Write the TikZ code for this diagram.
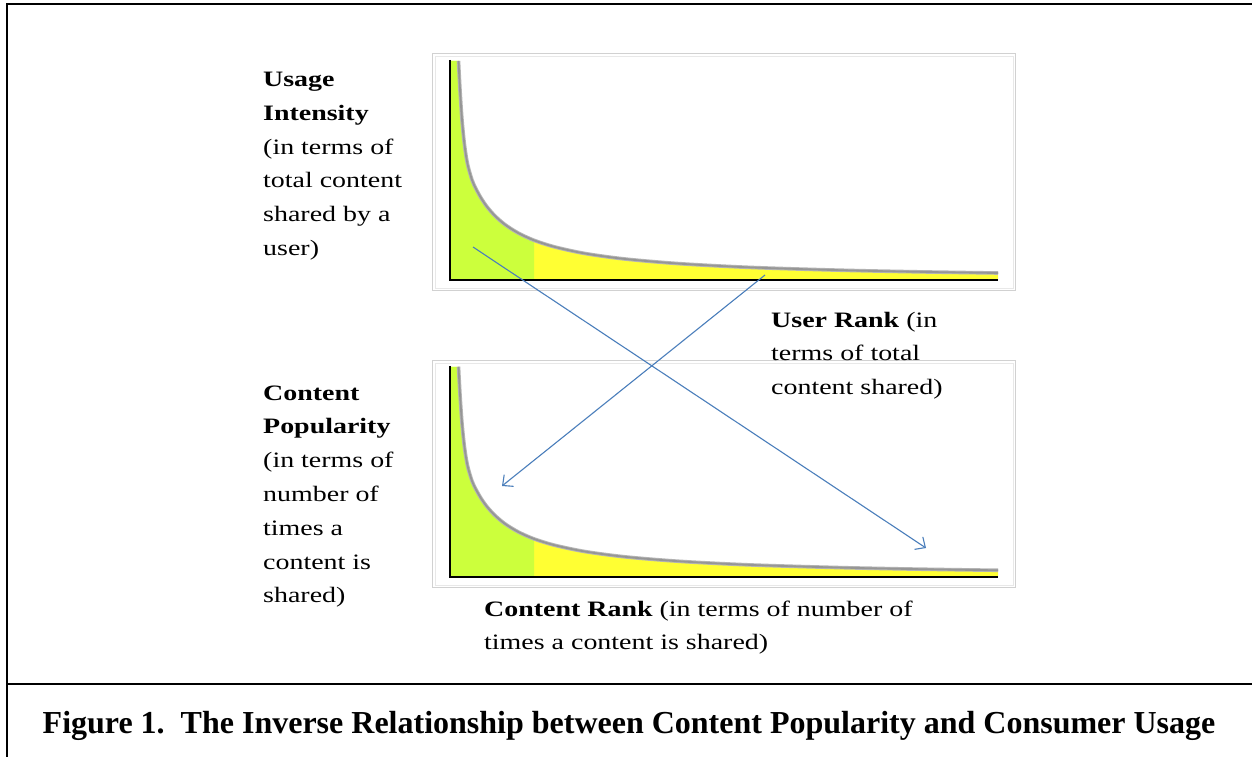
\documentclass[tikz,border=0pt]{standalone}
\usepackage{fontspec}
\setmainfont{Liberation Serif}
\newfontfamily\labfont[FakeStretch=1.27]{Liberation Serif}
\usetikzlibrary{arrows.meta}
\definecolor{arrowblue}{RGB}{74,126,187}
\definecolor{limefill}{RGB}{204,255,60}
\definecolor{yelfill}{RGB}{255,255,51}
\definecolor{curvegrey}{RGB}{150,150,150}
\newcommand\linesbox[1]{\vtop{\baselineskip=33.8pt\lineskiplimit=-50pt\lineskip=0pt #1}}
\newcommand\tailfill[1]{\fill[#1] (0,0) -- (0,-219) -- plot[smooth,tension=0.5] coordinates {(8.5,-219) (10,-190) (12,-160) (14.5,-135) (17.5,-116) (22,-100) (26,-91.1) (31,-82) (37,-73.2) (45,-64.1) (55,-55.4) (68,-47.1) (84,-39.7) (105,-33) (135,-26.5) (175,-21) (230,-16.3) (300,-12.6) (390,-9.8) (470,-8.15) (548,-7)} -- (548,0) -- cycle;}
\newcommand\tailline[1]{\draw[#1] plot[smooth,tension=0.5] coordinates {(8.5,-219) (10,-190) (12,-160) (14.5,-135) (17.5,-116) (22,-100) (26,-91.1) (31,-82) (37,-73.2) (45,-64.1) (55,-55.4) (68,-47.1) (84,-39.7) (105,-33) (135,-26.5) (175,-21) (230,-16.3) (300,-12.6) (390,-9.8) (470,-8.15) (548,-7)};}
\tikzset{
  frameline/.style={line width=2pt, draw=black},
  chartframe/.style={draw=black!18, line width=1.2pt},
  chartframein/.style={draw=black!9, line width=0.8pt},
  axisline/.style={draw=black, line width=2.6pt},
  curveouter/.style={draw=curvegrey!70, line width=3.6pt},
  curveinner/.style={draw=curvegrey, line width=1.8pt},
  lbltext/.style={anchor=base west, inner sep=0pt, font=\labfont\fontsize{22}{34}\selectfont},
  captext/.style={anchor=base west, inner sep=0pt, font=\fontsize{32}{38}\selectfont\bfseries},
  arrowline/.style={draw=arrowblue, line width=1.1pt, -{Straight Barb[length=8pt,width=15pt,line width=1.1pt]}},
  tailchart/.pic={
    \tailfill{yelfill}
    \begin{scope}
      \clip (-2,2) rectangle (84,-230);
      \tailfill{limefill}
    \end{scope}
    \tailline{curveouter}
    \tailline{curveinner}
    \draw[axisline] (0,-220) -- (0,0) -- (548,0);
  }
}
\begin{document}
\begin{tikzpicture}[x=1pt,y=-1pt]
\useasboundingbox (0,0) rectangle (1252,757);
\fill[white] (0,0) rectangle (1252,757);
% outer frame
\draw[frameline] (7,760) -- (7,4) -- (1255,4);
\draw[frameline] (7,684) -- (1255,684);
% chart frames
\draw[chartframe] (432.5,53.5) rectangle (1015.5,290.5);
\draw[chartframein] (435,56) rectangle (1013,288);
\draw[chartframe] (432.5,360.5) rectangle (1015.5,587.5);
\draw[chartframein] (435,363) rectangle (1013,585);
% charts
\pic (topchart) at (450,280) {tailchart};
\pic[yscale=0.96] (botchart) at (450,577) {tailchart};
% labels
\node[lbltext] (usage) at (263,86.5) {\linesbox{\hbox{\bfseries Usage}\hbox{\bfseries Intensity}\hbox{(in terms of}\hbox{total content}\hbox{shared by a}\hbox{user)}}};
\node[lbltext] (popularity) at (263,400) {\linesbox{\hbox{\bfseries Content}\hbox{\bfseries Popularity}\hbox{(in terms of}\hbox{number of}\hbox{times a}\hbox{content is}\hbox{shared)}}};
\node[lbltext] (userrank) at (771,327) {\linesbox{\hbox{\textbf{User Rank} (in}\hbox{terms of total}\hbox{content shared)}}};
\node[lbltext] (contentrank) at (484,616) {\linesbox{\hbox{\textbf{Content Rank} (in terms of number of}\hbox{times a content is shared)}}};
% arrows
\coordinate (a1s) at (473,247);
\coordinate (a1e) at (926,548);
\coordinate (a2s) at (765,275);
\coordinate (a2e) at (502,486);
\draw[arrowline] (a1s) -- (a1e);
\draw[arrowline] (a2s) -- (a2e);
% caption
\node[captext] (caption) at (42.5,733) {Figure 1.\hspace{16pt}The Inverse Relationship between Content Popularity and Consumer Usage};
\end{tikzpicture}
\end{document}
